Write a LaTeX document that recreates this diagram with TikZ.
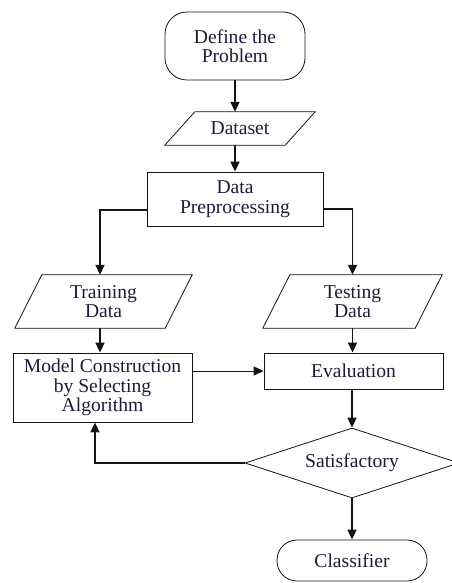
\documentclass[tikz,border=0pt]{standalone}
\usepackage{fontspec}
\setmainfont{Liberation Serif}
\usetikzlibrary{shapes.geometric,arrows.meta}
\definecolor{txtnavy}{RGB}{28,28,58}
\definecolor{linedark}{RGB}{20,20,20}
\begin{document}
\begin{tikzpicture}[x=1pt,y=-1pt,
  every node/.style={font=\fontsize{19.6}{19.5}\selectfont, align=center, inner sep=0pt, text=txtnavy},
  term/.style={draw=linedark, line width=0.8pt, rectangle, rounded corners=22pt},
  procbox/.style={draw=linedark, line width=0.8pt, rectangle},
  iotext/.style={rectangle, draw=none},
  iobord/.style={draw=linedark, line width=0.8pt, line join=miter},
  decision/.style={draw=linedark, line width=0.8pt, diamond, aspect=3.06},
  conn/.style={draw=linedark, line width=1.7pt, -{Triangle[length=10pt,width=9pt]}},
  thinconn/.style={draw=linedark, line width=0.9pt, -{Triangle[length=10pt,width=9pt]}}]
\useasboundingbox (0,0) rectangle (451,583);
\node[term, minimum width=140pt, minimum height=68pt] (define) at (235,46) {Define the\\Problem};
\node[iotext, minimum width=150pt, minimum height=33pt] (dataset) at (240,128.5) {Dataset};
\draw[iobord] ([xshift=30pt]dataset.north west) -- (dataset.north east) -- ([xshift=-30pt]dataset.south east) -- (dataset.south west) -- cycle;
\node[procbox, minimum width=176pt, minimum height=54pt] (prep) at (235,199) {Data\\Preprocessing};
\node[iotext, minimum width=177pt, minimum height=53pt] (train) at (103.5,301.5) {Training\\Data};
\draw[iobord] ([xshift=27pt]train.north west) -- (train.north east) -- ([xshift=-27pt]train.south east) -- (train.south west) -- cycle;
\node[iotext, minimum width=179pt, minimum height=53pt] (test) at (352.5,301.5) {Testing\\Data};
\draw[iobord] ([xshift=27pt]test.north west) -- (test.north east) -- ([xshift=-27pt]test.south east) -- (test.south west) -- cycle;
\node[procbox, minimum width=179pt, minimum height=69pt] (model) at (102.5,387.5) {Model Construction\\by Selecting\\Algorithm};
\node[procbox, minimum width=179pt, minimum height=36pt] (eval) at (353.5,371) {Evaluation};
\node[decision, minimum width=214pt, minimum height=70pt] (sat) at (352,463) {Satisfactory};
\node[term, rounded corners=20pt, minimum width=150pt, minimum height=41pt] (cls) at (352,560.5) {Classifier};
\draw[conn] (define.south) -- (define.south |- dataset.north);
\draw[conn] (define.south |- dataset.south) -- (prep.north);
\draw[conn] ([yshift=-11pt]prep.west) -| ([xshift=-3.5pt]train.north);
\draw[conn] ([yshift=-10pt]prep.east) -| (test.north);
\draw[conn] ([xshift=-3.5pt]train.south) -- ([xshift=-3.5pt]train.south |- model.north);
\draw[conn] (test.south) -- (test.south |- eval.north);
\draw[thinconn] (model.east |- eval.west) -- (eval.west);
\draw[conn] (eval.south -| sat.north) -- (sat.north);
\draw[conn] (sat.west) -| ([xshift=-7.5pt]model.south);
\draw[conn] (sat.south) -- (cls.north);
\end{tikzpicture}
\end{document}
